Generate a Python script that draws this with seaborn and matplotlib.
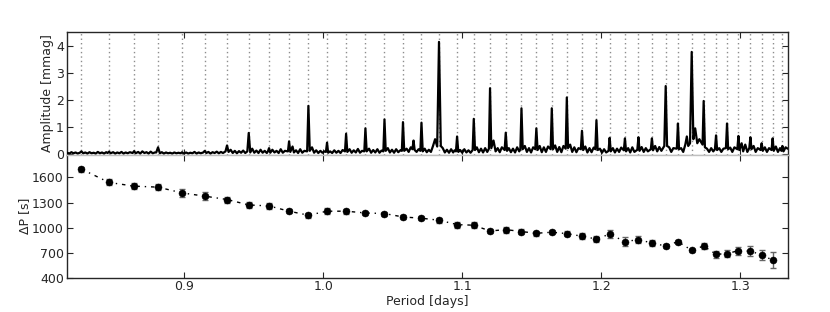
import numpy as np
import pandas as pd
import matplotlib
matplotlib.use("Agg")
import matplotlib.pyplot as plt
import seaborn as sns

# period spacings
periods = [0.8262, 0.8461, 0.8641, 0.8813, 0.8986, 0.9149, 0.9309, 0.9465, 0.9611, 0.9755,
           0.9894, 1.0028, 1.0165, 1.0304, 1.0441, 1.0574, 1.0707, 1.0833, 1.0963, 1.1083,
           1.1200, 1.1313, 1.1426, 1.1533, 1.1644, 1.1752, 1.1861, 1.1965, 1.2060, 1.2170,
           1.2267, 1.2364, 1.2463, 1.2551, 1.2650, 1.2736, 1.2825, 1.2904, 1.2986, 1.3072,
           1.3153, 1.3232]
delta_p = [1700, 1540, 1496, 1484, 1415, 1376, 1336, 1271, 1259, 1196,
           1148, 1196, 1196, 1175, 1168, 1127, 1112, 1088, 1036, 1028,
           959, 976, 952, 932, 944, 928, 896, 863, 922, 832,
           856, 815, 779, 832, 728, 779, 680, 688, 724, 719,
           671, 611]
delta_err = [30, 36, 36, 36, 48, 44, 36, 36, 36, 24,
             28, 36, 28, 24, 24, 24, 24, 28, 36, 36,
             28, 36, 28, 28, 24, 28, 36, 40, 52, 52,
             44, 36, 24, 24, 20, 36, 40, 40, 48, 60,
             64, 96]
# dotted markers in the top panel (one extra beyond the last point)
grid_periods = periods + [1.3302]

# amplitude spectrum, traced by hand
spec_period = [
    0.8160, 0.8175, 0.8190, 0.8205, 0.8220, 0.8235, 0.8250, 0.8262, 0.8275, 0.8290,
    0.8305, 0.8320, 0.8335, 0.8350, 0.8365, 0.8380, 0.8395, 0.8410, 0.8425, 0.8440,
    0.8450, 0.8461, 0.8472, 0.8490, 0.8505, 0.8520, 0.8535, 0.8550, 0.8565, 0.8580,
    0.8595, 0.8610, 0.8630, 0.8641, 0.8652, 0.8670, 0.8685, 0.8700, 0.8715, 0.8730,
    0.8745, 0.8760, 0.8775, 0.8790, 0.8800, 0.8813, 0.8826, 0.8840, 0.8855, 0.8870,
    0.8885, 0.8900, 0.8915, 0.8930, 0.8945, 0.8960, 0.8975, 0.8986, 0.8997, 0.9015,
    0.9030, 0.9045, 0.9060, 0.9075, 0.9090, 0.9105, 0.9120, 0.9138, 0.9149, 0.9160,
    0.9175, 0.9190, 0.9205, 0.9220, 0.9235, 0.9250, 0.9265, 0.9280, 0.9298, 0.9309,
    0.9320, 0.9335, 0.9350, 0.9365, 0.9380, 0.9395, 0.9410, 0.9425, 0.9440, 0.9455,
    0.9465, 0.9476, 0.9490, 0.9505, 0.9520, 0.9535, 0.9550, 0.9565, 0.9580, 0.9595,
    0.9603, 0.9611, 0.9620, 0.9635, 0.9650, 0.9665, 0.9680, 0.9695, 0.9710, 0.9725,
    0.9747, 0.9755, 0.9764, 0.9780, 0.9790, 0.9805, 0.9820, 0.9835, 0.9850, 0.9865,
    0.9885, 0.9894, 0.9904, 0.9920, 0.9935, 0.9950, 0.9965, 0.9980, 0.9995, 1.0010,
    1.0020, 1.0028, 1.0036, 1.0050, 1.0065, 1.0080, 1.0095, 1.0110, 1.0125, 1.0140,
    1.0157, 1.0165, 1.0174, 1.0190, 1.0205, 1.0220, 1.0235, 1.0250, 1.0265, 1.0280,
    1.0296, 1.0304, 1.0313, 1.0330, 1.0345, 1.0360, 1.0375, 1.0390, 1.0405, 1.0420,
    1.0433, 1.0441, 1.0450, 1.0465, 1.0480, 1.0495, 1.0510, 1.0525, 1.0540, 1.0555,
    1.0566, 1.0574, 1.0583, 1.0600, 1.0615, 1.0630, 1.0642, 1.0650, 1.0658, 1.0672,
    1.0686, 1.0699, 1.0707, 1.0716, 1.0730, 1.0745, 1.0760, 1.0775, 1.0790, 1.0805,
    1.0820, 1.0833, 1.0846, 1.0860, 1.0875, 1.0890, 1.0905, 1.0920, 1.0935, 1.0945,
    1.0955, 1.0963, 1.0972, 1.0985, 1.1000, 1.1015, 1.1030, 1.1045, 1.1060, 1.1075,
    1.1083, 1.1092, 1.1105, 1.1120, 1.1135, 1.1150, 1.1165, 1.1180, 1.1192, 1.1200,
    1.1209, 1.1225, 1.1240, 1.1255, 1.1270, 1.1285, 1.1305, 1.1313, 1.1322, 1.1335,
    1.1350, 1.1365, 1.1380, 1.1395, 1.1410, 1.1418, 1.1426, 1.1435, 1.1450, 1.1465,
    1.1480, 1.1495, 1.1510, 1.1525, 1.1533, 1.1542, 1.1557, 1.1572, 1.1587, 1.1602,
    1.1617, 1.1636, 1.1644, 1.1653, 1.1668, 1.1683, 1.1698, 1.1713, 1.1728, 1.1744,
    1.1752, 1.1761, 1.1776, 1.1791, 1.1806, 1.1821, 1.1836, 1.1853, 1.1861, 1.1870,
    1.1885, 1.1900, 1.1915, 1.1930, 1.1945, 1.1957, 1.1965, 1.1974, 1.1990, 1.2005,
    1.2020, 1.2035, 1.2052, 1.2060, 1.2068, 1.2083, 1.2098, 1.2113, 1.2128, 1.2143,
    1.2162, 1.2170, 1.2178, 1.2193, 1.2208, 1.2223, 1.2238, 1.2259, 1.2267, 1.2275,
    1.2290, 1.2305, 1.2320, 1.2335, 1.2356, 1.2364, 1.2372, 1.2387, 1.2402, 1.2417,
    1.2432, 1.2453, 1.2463, 1.2473, 1.2488, 1.2503, 1.2518, 1.2543, 1.2551, 1.2559,
    1.2574, 1.2589, 1.2604, 1.2615, 1.2625, 1.2638, 1.2650, 1.2662, 1.2675, 1.2690,
    1.2705, 1.2728, 1.2736, 1.2745, 1.2760, 1.2775, 1.2790, 1.2805, 1.2817, 1.2825,
    1.2833, 1.2848, 1.2863, 1.2878, 1.2896, 1.2904, 1.2912, 1.2927, 1.2942, 1.2957,
    1.2978, 1.2986, 1.2994, 1.3009, 1.3020, 1.3035, 1.3050, 1.3064, 1.3072, 1.3080,
    1.3095, 1.3110, 1.3125, 1.3145, 1.3153, 1.3161, 1.3176, 1.3191, 1.3206, 1.3224,
    1.3232, 1.3240, 1.3255, 1.3270, 1.3285, 1.3295, 1.3302, 1.3310, 1.3325, 1.3340]
spec_amp = [
    0.05, 0.02, 0.07, 0.03, 0.06, 0.02, 0.05, 0.10, 0.03, 0.06,
    0.02, 0.07, 0.03, 0.05, 0.02, 0.08, 0.03, 0.06, 0.02, 0.07,
    0.04, 0.09, 0.03, 0.07, 0.02, 0.06, 0.03, 0.08, 0.02, 0.06,
    0.03, 0.07, 0.04, 0.11, 0.03, 0.08, 0.02, 0.10, 0.04, 0.07,
    0.02, 0.09, 0.03, 0.06, 0.06, 0.25, 0.03, 0.07, 0.02, 0.06,
    0.03, 0.05, 0.02, 0.06, 0.03, 0.05, 0.03, 0.07, 0.02, 0.06,
    0.02, 0.05, 0.03, 0.08, 0.02, 0.06, 0.03, 0.06, 0.12, 0.04,
    0.08, 0.02, 0.07, 0.04, 0.09, 0.03, 0.08, 0.04, 0.10, 0.32,
    0.08, 0.16, 0.04, 0.12, 0.03, 0.11, 0.05, 0.13, 0.04, 0.10,
    0.78, 0.06, 0.20, 0.05, 0.13, 0.04, 0.16, 0.05, 0.12, 0.04,
    0.10, 0.22, 0.05, 0.16, 0.06, 0.12, 0.04, 0.18, 0.05, 0.12,
    0.10, 0.47, 0.08, 0.28, 0.06, 0.14, 0.04, 0.18, 0.05, 0.12,
    0.10, 1.78, 0.12, 0.25, 0.05, 0.14, 0.04, 0.12, 0.05, 0.10,
    0.08, 0.42, 0.05, 0.10, 0.04, 0.14, 0.05, 0.12, 0.04, 0.15,
    0.10, 0.75, 0.08, 0.18, 0.05, 0.14, 0.06, 0.19, 0.05, 0.12,
    0.10, 0.95, 0.10, 0.20, 0.05, 0.15, 0.06, 0.18, 0.05, 0.13,
    0.10, 1.28, 0.12, 0.22, 0.06, 0.16, 0.05, 0.18, 0.07, 0.14,
    0.12, 1.18, 0.12, 0.20, 0.08, 0.25, 0.18, 0.50, 0.15, 0.08,
    0.18, 0.12, 1.16, 0.10, 0.20, 0.07, 0.16, 0.08, 0.30, 0.55,
    0.28, 4.14, 0.30, 0.22, 0.06, 0.16, 0.05, 0.18, 0.06, 0.14,
    0.10, 0.65, 0.08, 0.15, 0.05, 0.18, 0.06, 0.14, 0.05, 0.15,
    1.30, 0.15, 0.25, 0.07, 0.20, 0.06, 0.22, 0.08, 0.20, 2.43,
    0.22, 0.50, 0.10, 0.22, 0.07, 0.25, 0.15, 0.79, 0.12, 0.22,
    0.07, 0.20, 0.06, 0.25, 0.10, 0.18, 1.69, 0.18, 0.30, 0.08,
    0.22, 0.06, 0.25, 0.18, 0.95, 0.15, 0.30, 0.07, 0.25, 0.08,
    0.28, 0.18, 1.69, 0.18, 0.32, 0.08, 0.26, 0.07, 0.30, 0.20,
    2.09, 0.22, 0.35, 0.08, 0.25, 0.07, 0.22, 0.18, 0.86, 0.15,
    0.28, 0.06, 0.22, 0.07, 0.24, 0.18, 1.25, 0.15, 0.20, 0.05,
    0.18, 0.06, 0.12, 0.60, 0.10, 0.22, 0.06, 0.20, 0.08, 0.24,
    0.14, 0.58, 0.10, 0.22, 0.06, 0.25, 0.08, 0.16, 0.62, 0.12,
    0.26, 0.08, 0.22, 0.10, 0.18, 0.58, 0.14, 0.30, 0.10, 0.26,
    0.12, 0.30, 2.51, 0.30, 0.25, 0.08, 0.22, 0.20, 1.13, 0.18,
    0.22, 0.08, 0.35, 0.65, 0.30, 0.40, 3.77, 0.55, 0.95, 0.40,
    0.55, 0.35, 1.96, 0.25, 0.20, 0.08, 0.22, 0.10, 0.18, 0.69,
    0.15, 0.22, 0.08, 0.20, 0.22, 1.13, 0.18, 0.24, 0.08, 0.25,
    0.18, 0.67, 0.15, 0.40, 0.10, 0.35, 0.08, 0.22, 0.62, 0.18,
    0.30, 0.08, 0.22, 0.15, 0.40, 0.12, 0.25, 0.08, 0.22, 0.15,
    0.58, 0.12, 0.28, 0.08, 0.22, 0.12, 0.30, 0.10, 0.25, 0.20]

spec = pd.DataFrame({"period": spec_period, "amp": spec_amp})
dp = pd.DataFrame({"period": periods, "dp": delta_p, "err": delta_err})

sns.set_style("ticks")
plt.rcParams['font.family'] = ['DejaVu Sans']
plt.rcParams['font.size'] = 9

fig, (ax1, ax2) = plt.subplots(2, 1, figsize=(8.3, 3.12), dpi=100, sharex=True)
fig.subplots_adjust(left=0.081, right=0.949, top=0.897, bottom=0.11, hspace=0)

for p in grid_periods:
    ax1.axvline(p, color="0.55", ls=(0, (1, 2.2)), lw=1.0, zorder=1)
sns.lineplot(data=spec, x="period", y="amp", ax=ax1, color="k", lw=1.6,
             estimator=None, sort=False, zorder=3)
ax1.set_ylim(-0.03, 4.5)
ax1.set_yticks([0, 1, 2, 3, 4])
ax1.set_xlabel("")

ax2.errorbar(dp["period"], dp["dp"], yerr=dp["err"], fmt="none", ecolor="0.4",
             elinewidth=1.0, capsize=2, capthick=1.0, zorder=2)
sns.lineplot(data=dp, x="period", y="dp", ax=ax2, color="k", lw=1.0,
             linestyle=(0, (2.5, 3.5, 1, 3.5)), estimator=None, zorder=3)
sns.scatterplot(data=dp, x="period", y="dp", ax=ax2, color="k", s=26,
                edgecolor="k", linewidth=0.3, zorder=4)
ax2.set_ylim(400, 1870)
ax2.set_yticks([400, 700, 1000, 1300, 1600])
ax2.set_xlim(0.816, 1.334)
ax2.set_xticks([0.9, 1.0, 1.1, 1.2, 1.3])
ax2.set_ylabel("ΔP [s]", labelpad=0.5)
ax2.set_xlabel("Period [days]", labelpad=1)
ax1.set_ylabel("Amplitude [mmag]", labelpad=1)

for ax in (ax1, ax2):
    ax.tick_params(direction="in", top=True, right=True, length=4, width=0.8,
                   labelsize=9)
    ax.tick_params(axis="y", pad=2.5)
    ax.tick_params(axis="x", pad=2)
    for s in ax.spines.values():
        s.set_color("0.15")
        s.set_linewidth(1.0)
ax1.spines["bottom"].set_color("0.75")
ax2.spines["top"].set_color("0.75")

fig.savefig("out.png", dpi=100)
